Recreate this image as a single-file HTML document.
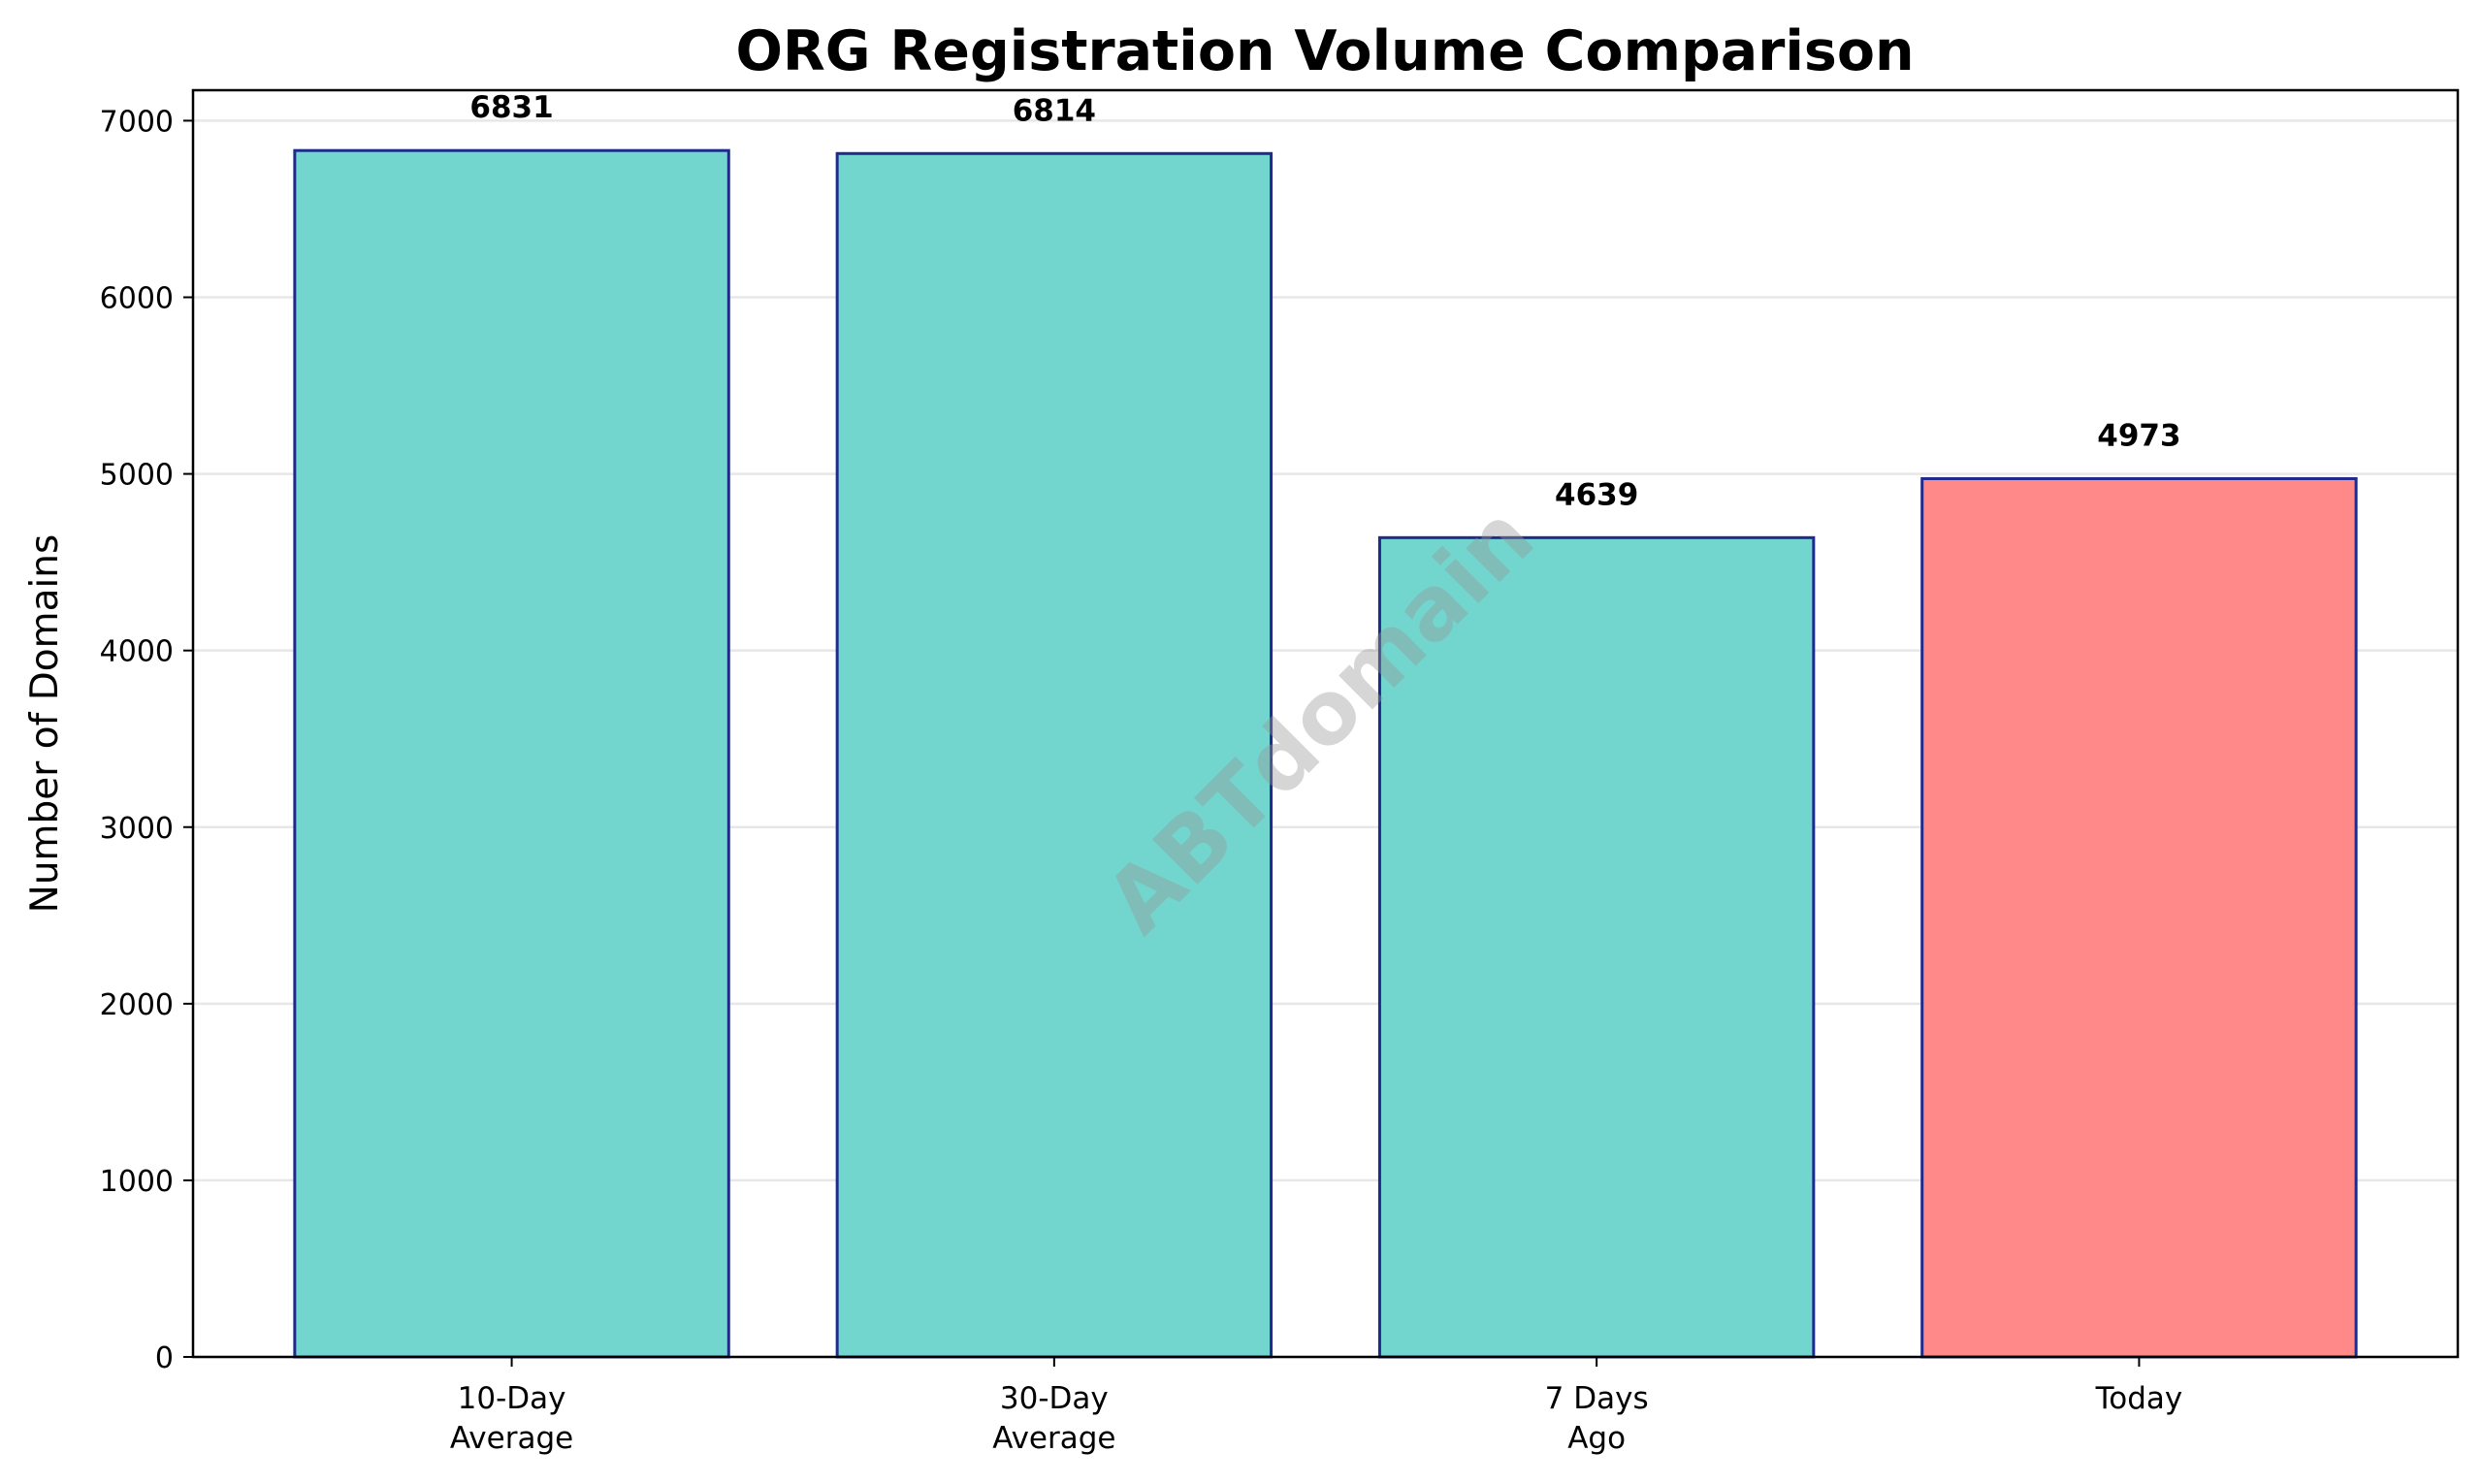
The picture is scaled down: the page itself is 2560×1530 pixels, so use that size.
<!DOCTYPE html>
<html><head><meta charset="utf-8"><style>
html,body{margin:0;padding:0;background:#fff;}
svg{display:block;font-family:"DejaVu Sans","Liberation Sans",sans-serif;}
</style></head><body>
<svg id="chart" width="2560" height="1530" viewBox="0 0 2560 1530" xmlns="http://www.w3.org/2000/svg">
<rect width="2560" height="1530" fill="#fff"/>
<text x="1366" y="72" text-anchor="middle" font-size="57" font-weight="bold">ORG Registration Volume Comparison</text>
<text transform="translate(59,746) rotate(-90)" text-anchor="middle" font-size="39">Number of Domains</text>
<g id="grid"></g>
<g id="bars"></g>
<g id="labels"></g>
<text transform="translate(1365,746) rotate(-45)" text-anchor="middle" dominant-baseline="middle" font-size="90" font-weight="bold" fill="#999" fill-opacity="0.4">ABTdomain</text>
<g id="axes"></g>
</svg>
<script>
const categories = [["10-Day","Average"],["30-Day","Average"],["7 Days","Ago"],["Today"]];
const values = [6831, 6814, 4639, 4973];
const colors = ["#72d6ce","#72d6ce","#72d6ce","#ff8888"];
const yTicks = [0,1000,2000,3000,4000,5000,6000,7000];

const L=199,R=2534,T=93,B=1399;
const xmin=-0.5875,xmax=3.5875,ymax=Math.max(...values)*1.05;
const NS="http://www.w3.org/2000/svg";
const X=v=>L+(v-xmin)/(xmax-xmin)*(R-L);
const Y=v=>B-v/ymax*(B-T);
function mk(tag,attrs,parent,text){const e=document.createElementNS(NS,tag);for(const k in attrs)e.setAttribute(k,attrs[k]);if(text!==undefined)e.textContent=text;document.getElementById(parent).appendChild(e);return e;}

yTicks.forEach(t=>{
  const g=mk('line',{x1:L,x2:R,y1:Y(t),y2:Y(t),stroke:'#b0b0b0','stroke-opacity':0.3,'stroke-width':2.5},'grid');
  
  
  const tk=mk('line',{x1:L-10,x2:L,y1:Y(t),y2:Y(t),stroke:'#000','stroke-width':2},'axes');
  
  
  const tl=mk('text',{x:L-20,y:Y(t)+11,'text-anchor':'end','font-size':30},'axes',String(t));
  
  
});
const bw=(X(0.8)-X(0));
values.forEach((v,i)=>{
  const b=mk('rect',{x:X(i)-bw/2,y:Y(v),width:bw,height:B-Y(v),fill:colors[i],stroke:'#1f2a8a','stroke-width':3},'bars');
  
  
  const vl=mk('text',{x:X(i),y:Y(v)-34,'text-anchor':'middle','font-size':31,'font-weight':'bold'},'labels',String(v));
  
  
  const tk=mk('line',{x1:X(i),x2:X(i),y1:B,y2:B+10,stroke:'#000','stroke-width':2},'axes');
  
  
  categories[i].forEach((line,j)=>{
    const xl=mk('text',{x:X(i),y:B+53+j*41,'text-anchor':'middle','font-size':31},'axes',line);
    
    
  });
});
const fr=mk('rect',{x:L,y:T,width:R-L,height:B-T,fill:'none',stroke:'#000','stroke-width':2.5},'axes');


</script>
</body></html>
